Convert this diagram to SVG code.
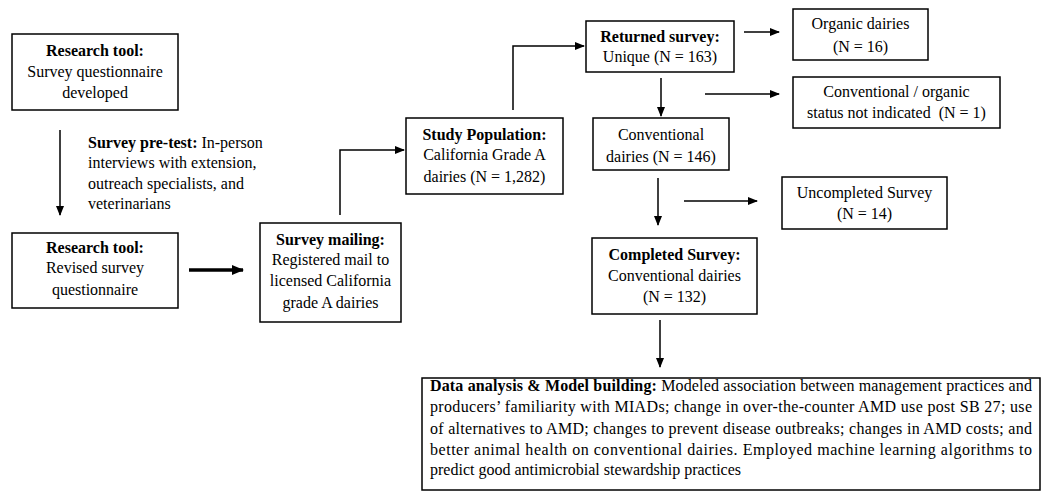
<svg xmlns="http://www.w3.org/2000/svg" width="1048" height="496" viewBox="0 0 1048 496">
<defs>
<marker id="ah" markerWidth="10" markerHeight="8" refX="9" refY="4" orient="auto" markerUnits="userSpaceOnUse">
<path d="M0,0 L10,4 L0,8 Z" fill="#000"/>
</marker>
<marker id="ahb" markerWidth="12" markerHeight="10" refX="11" refY="5" orient="auto" markerUnits="userSpaceOnUse">
<path d="M0,0 L12,5 L0,10 Z" fill="#000"/>
</marker>
</defs>
<style>
text{font-family:"Liberation Serif","Times New Roman",serif;font-size:16px;fill:#000}
.c{text-anchor:middle}
.b{font-weight:bold}
.box{fill:#fff;stroke:#000;stroke-width:1.5}
.ln{fill:none;stroke:#000;stroke-width:1.5;marker-end:url(#ah)}
.thick{fill:none;stroke:#000;stroke-width:3.5;marker-end:url(#ahb)}
</style>
<rect width="1048" height="496" fill="#fff"/>
<g id="connectors">
<path class="ln" d="M60,130 V215"/>
<path class="thick" d="M189,270 H243"/>
<path class="ln" d="M340,215 V150 H404"/>
<path class="ln" d="M513,110 V46 H584"/>
<path class="ln" d="M661,78 V116"/>
<path class="ln" d="M744,32 H779"/>
<path class="ln" d="M705,94 H779"/>
<path class="ln" d="M658,178 V225"/>
<path class="ln" d="M684,201 H757"/>
<path class="ln" d="M660,320 V367"/>
</g>
<g id="research-tool-1">
<rect class="box" x="12" y="34" width="166" height="76"/>
<text class="c b" x="95" y="56">Research tool:</text>
<text class="c" x="95" y="77">Survey questionnaire</text>
<text class="c" x="95" y="98">developed</text>
</g>
<g id="pretest-label">
<text x="88" y="148"><tspan class="b">Survey pre-test:</tspan> In-person</text>
<text x="88" y="168">interviews with extension,</text>
<text x="88" y="189">outreach specialists, and</text>
<text x="88" y="209">veterinarians</text>
</g>
<g id="research-tool-2">
<rect class="box" x="12" y="233" width="166" height="75"/>
<text class="c b" x="95" y="253">Research tool:</text>
<text class="c" x="95" y="273">Revised survey</text>
<text class="c" x="95" y="295">questionnaire</text>
</g>
<g id="survey-mailing">
<rect class="box" x="260" y="223" width="141" height="99"/>
<text class="c b" x="330.5" y="245">Survey mailing:</text>
<text class="c" x="330.5" y="265">Registered mail to</text>
<text class="c" x="330.5" y="286">licensed California</text>
<text class="c" x="330.5" y="308">grade A dairies</text>
</g>
<g id="study-population">
<rect class="box" x="406" y="118" width="157" height="76"/>
<text class="c b" x="484.5" y="140">Study Population:</text>
<text class="c" x="484.5" y="160">California Grade A</text>
<text class="c" x="484.5" y="182">dairies (N = 1,282)</text>
</g>
<g id="returned-survey">
<rect class="box" x="586" y="21" width="148" height="51"/>
<text class="c b" x="660" y="42">Returned survey:</text>
<text class="c" x="660" y="62">Unique (N = 163)</text>
</g>
<g id="organic">
<rect class="box" x="793" y="9" width="135" height="51"/>
<text class="c" x="860.5" y="29">Organic dairies</text>
<text class="c" x="860.5" y="52">(N = 16)</text>
</g>
<g id="status-not-indicated">
<rect class="box" x="793" y="77" width="207" height="51"/>
<text class="c" x="896.5" y="97">Conventional / organic</text>
<text class="c" x="896.5" y="118" xml:space="preserve">status not indicated  (N = 1)</text>
</g>
<g id="conventional">
<rect class="box" x="593" y="118" width="136" height="52"/>
<text class="c" x="661" y="140">Conventional</text>
<text class="c" x="661" y="162">dairies (N = 146)</text>
</g>
<g id="uncompleted">
<rect class="box" x="782" y="177" width="165" height="52"/>
<text class="c" x="864.5" y="198">Uncompleted Survey</text>
<text class="c" x="864.5" y="219">(N = 14)</text>
</g>
<g id="completed">
<rect class="box" x="592" y="238" width="165" height="76"/>
<text class="c b" x="674.5" y="260">Completed Survey:</text>
<text class="c" x="674.5" y="281">Conventional dairies</text>
<text class="c" x="674.5" y="302">(N = 132)</text>
</g>
<g id="data-analysis">
<rect class="box" x="422" y="378" width="618" height="112"/>
<text x="430" y="391" textLength="602" lengthAdjust="spacing"><tspan class="b">Data analysis &amp; Model building:</tspan> Modeled association between management practices and</text>
<text x="430" y="412" textLength="602" lengthAdjust="spacing">producers’ familiarity with MIADs; change in over-the-counter AMD use post SB 27; use</text>
<text x="430" y="434" textLength="602" lengthAdjust="spacing">of alternatives to AMD; changes to prevent disease outbreaks; changes in AMD costs; and</text>
<text x="430" y="455" textLength="602" lengthAdjust="spacing">better animal health on conventional dairies. Employed machine learning algorithms to</text>
<text x="430" y="475">predict good antimicrobial stewardship practices</text>
</g>
</svg>
